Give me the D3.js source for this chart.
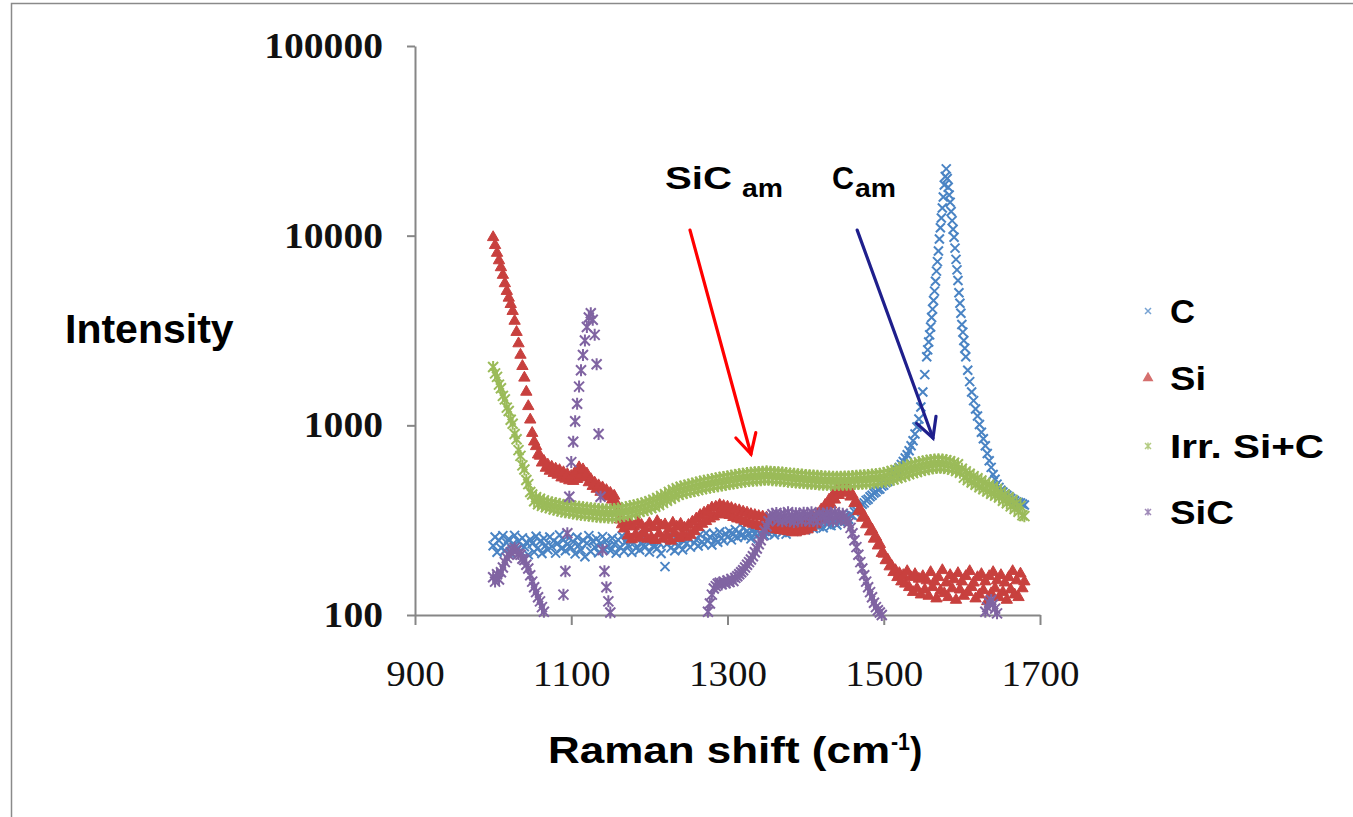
<!DOCTYPE html>
<html>
<head>
<meta charset="utf-8">
<script src="https://cdn.jsdelivr.net/npm/d3@7"></script>
<style>
  body { margin: 0; background: #fff; }
  svg { display: block; }
</style>
</head>
<body>
<div id="chart"></div>
<script>
const width = 1353;
const height = 817;

// Raman shift (cm-1), one sample every 2.5 cm-1
const shift = [
  1000, 1002.5, 1005, 1007.5, 1010, 1012.5, 1015, 1017.5, 1020, 1022.5, 1025, 1027.5, 1030, 1032.5, 1035, 1037.5, 1040, 1042.5, 1045, 1047.5,
  1050, 1052.5, 1055, 1057.5, 1060, 1062.5, 1065, 1067.5, 1070, 1072.5, 1075, 1077.5, 1080, 1082.5, 1085, 1087.5, 1090, 1092.5, 1095, 1097.5,
  1100, 1102.5, 1105, 1107.5, 1110, 1112.5, 1115, 1117.5, 1120, 1122.5, 1125, 1127.5, 1130, 1132.5, 1135, 1137.5, 1140, 1142.5, 1145, 1147.5,
  1150, 1152.5, 1155, 1157.5, 1160, 1162.5, 1165, 1167.5, 1170, 1172.5, 1175, 1177.5, 1180, 1182.5, 1185, 1187.5, 1190, 1192.5, 1195, 1197.5,
  1200, 1202.5, 1205, 1207.5, 1210, 1212.5, 1215, 1217.5, 1220, 1222.5, 1225, 1227.5, 1230, 1232.5, 1235, 1237.5, 1240, 1242.5, 1245, 1247.5,
  1250, 1252.5, 1255, 1257.5, 1260, 1262.5, 1265, 1267.5, 1270, 1272.5, 1275, 1277.5, 1280, 1282.5, 1285, 1287.5, 1290, 1292.5, 1295, 1297.5,
  1300, 1302.5, 1305, 1307.5, 1310, 1312.5, 1315, 1317.5, 1320, 1322.5, 1325, 1327.5, 1330, 1332.5, 1335, 1337.5, 1340, 1342.5, 1345, 1347.5,
  1350, 1352.5, 1355, 1357.5, 1360, 1362.5, 1365, 1367.5, 1370, 1372.5, 1375, 1377.5, 1380, 1382.5, 1385, 1387.5, 1390, 1392.5, 1395, 1397.5,
  1400, 1402.5, 1405, 1407.5, 1410, 1412.5, 1415, 1417.5, 1420, 1422.5, 1425, 1427.5, 1430, 1432.5, 1435, 1437.5, 1440, 1442.5, 1445, 1447.5,
  1450, 1452.5, 1455, 1457.5, 1460, 1462.5, 1465, 1467.5, 1470, 1472.5, 1475, 1477.5, 1480, 1482.5, 1485, 1487.5, 1490, 1492.5, 1495, 1497.5,
  1500, 1502.5, 1505, 1507.5, 1510, 1512.5, 1515, 1517.5, 1520, 1522.5, 1525, 1527.5, 1530, 1532.5, 1535, 1537.5, 1540, 1542.5, 1545, 1547.5,
  1550, 1552.5, 1555, 1557.5, 1560, 1562.5, 1565, 1567.5, 1570, 1572.5, 1575, 1577.5, 1580, 1582.5, 1585, 1587.5, 1590, 1592.5, 1595, 1597.5,
  1600, 1602.5, 1605, 1607.5, 1610, 1612.5, 1615, 1617.5, 1620, 1622.5, 1625, 1627.5, 1630, 1632.5, 1635, 1637.5, 1640, 1642.5, 1645, 1647.5,
  1650, 1652.5, 1655, 1657.5, 1660, 1662.5, 1665, 1667.5, 1670, 1672.5, 1675, 1677.5, 1680
];

const cValues = [
  232, 258, 214, 247, 226, 262, 219, 240, 252, 210, 236, 263, 222, 245, 216, 255, 229, 241, 208, 250,
  238, 215, 260, 226, 244, 211, 253, 233, 221, 258, 230, 246, 212, 239, 264, 224, 249, 218, 236, 255,
  227, 243, 210, 257, 234, 220, 248, 203, 239, 262, 216, 245, 228, 252, 213, 238, 259, 222, 247, 231,
  219, 254, 236, 212, 249, 228, 261, 217, 242, 233, 256, 214, 240, 226, 251, 220, 237, 263, 229, 245,
  215, 248, 231, 257, 224, 240, 211, 253, 180, 236, 262, 226, 244, 218, 250, 233, 259, 221, 246, 238,
  254, 228, 262, 240, 249, 231, 266, 243, 236, 270, 247, 258, 234, 268, 251, 242, 274, 255, 246, 268,
  258, 276, 249, 267, 282, 256, 271, 262, 288, 259, 277, 266, 252, 284, 270, 261, 292, 268, 279, 263,
  287, 270, 296, 276, 265, 291, 281, 300, 272, 288, 267, 295, 283, 304, 276, 290, 280, 306, 285, 296,
  281, 302, 290, 311, 286, 298, 316, 293, 305, 288, 320, 300, 312, 296, 324, 306, 298, 318, 309, 326,
  312, 330, 320, 338, 334, 350, 356, 366, 372, 384, 390, 402, 408, 420, 428, 440, 446, 458, 462, 478,
  484, 498, 505, 520, 530, 548, 560, 580, 600, 622, 645, 672, 700, 735, 780, 830, 900, 980, 1080, 1250,
  1500, 1850, 2300, 2750, 3300, 4100, 5100, 6500, 8300, 11000, 14000, 18500, 22500, 18000, 15000, 12000, 9800, 7500, 5800, 4400,
  3400, 2800, 2300, 1950, 1700, 1500, 1350, 1220, 1120, 1010, 920, 850, 780, 710, 650, 600, 550, 520, 490, 470,
  455, 445, 435, 428, 420, 412, 405, 400, 395, 392, 390, 385, 380
];

// extra C samples
const cPeakShift = [
  1556.25, 1558.75, 1561.25, 1563.75, 1566.25, 1568.75, 1571.25, 1573.75, 1576.25, 1578.75,
  1581.25, 1583.75, 1586.25, 1588.75, 1591.25, 1593.75, 1596.25, 1598.75, 1601.25, 1603.75
];
const cPeakValues = [
  2500, 3000, 3700, 4550, 5750, 7300, 9600, 12400, 16000, 20500,
  20000, 16400, 13400, 10800, 8600, 6600, 5000, 3900, 3100, 2550
];

const siValues = [
  9800, 8900, 8100, 7400, 6800, 6200, 5600, 5100, 4700, 4350, 4000, 3550, 3100, 2700, 2350, 2050, 1780, 1500, 1260, 1070,
  910, 820, 775, 700, 690, 635, 648, 596, 620, 575, 604, 560, 590, 548, 580, 530, 565, 522, 552, 512,
  540, 508, 566, 520, 600, 548, 585, 530, 556, 500, 520, 478, 498, 462, 482, 445, 470, 432, 455, 420,
  440, 405, 425, 390, 350, 318, 300, 285, 295, 262, 306, 250, 292, 266, 310, 255, 298, 270, 286, 252,
  304, 256, 290, 248, 312, 268, 296, 252, 300, 262, 284, 246, 306, 270, 292, 254, 302, 266, 288, 258,
  298, 264, 310, 276, 322, 290, 336, 302, 346, 312, 355, 322, 368, 330, 372, 338, 380, 345, 375, 340,
  372, 336, 366, 328, 360, 322, 356, 318, 350, 312, 346, 306, 340, 302, 336, 298, 332, 294, 330, 292,
  326, 290, 322, 286, 320, 282, 316, 280, 312, 278, 310, 276, 308, 274, 306, 272, 304, 276, 308, 278,
  312, 282, 316, 290, 325, 300, 340, 318, 360, 336, 380, 360, 405, 382, 430, 405, 452, 428, 470, 445,
  478, 440, 462, 420, 430, 388, 392, 352, 360, 325, 332, 300, 305, 275, 282, 252, 258, 232, 236, 212,
  210, 194, 196, 180, 182, 168, 172, 158, 166, 150, 162, 146, 170, 140, 158, 132, 164, 138, 155, 128,
  160, 136, 152, 126, 168, 140, 150, 122, 158, 134, 172, 130, 148, 124, 162, 138, 154, 120, 166, 136,
  150, 126, 160, 132, 170, 140, 148, 122, 158, 128, 164, 135, 150, 118, 160, 130, 168, 138, 152, 124,
  162, 132, 148, 120, 158, 136, 170, 128, 152, 124, 165, 138, 150
];

const irrValues = [
  2030, 1880, 1800, 1640, 1570, 1430, 1370, 1240, 1190, 1070, 1020, 900, 845, 740, 690, 615, 585, 515, 490, 445,
  432, 398, 418, 384, 410, 376, 402, 370, 396, 366, 392, 360, 388, 356, 384, 352, 380, 348, 378, 346,
  376, 344, 374, 340, 372, 338, 370, 336, 368, 334, 366, 332, 364, 330, 362, 328, 362, 328, 360, 326,
  360, 326, 362, 328, 364, 330, 366, 334, 370, 336, 374, 340, 378, 344, 382, 350, 386, 354, 392, 360,
  398, 366, 406, 372, 414, 380, 424, 390, 434, 400, 446, 410, 456, 420, 466, 430, 474, 436, 480, 442,
  486, 446, 492, 450, 498, 456, 504, 462, 510, 466, 514, 470, 520, 474, 524, 478, 530, 482, 534, 486,
  538, 490, 542, 494, 548, 498, 552, 502, 556, 506, 560, 508, 562, 510, 566, 512, 568, 514, 570, 516,
  572, 516, 570, 514, 568, 512, 566, 510, 564, 508, 560, 504, 558, 502, 556, 500, 552, 498, 550, 496,
  548, 494, 546, 492, 544, 490, 542, 488, 540, 486, 538, 486, 538, 484, 536, 484, 536, 484, 536, 486,
  538, 486, 538, 488, 540, 490, 542, 490, 544, 492, 546, 494, 548, 496, 550, 498, 552, 500, 556, 502,
  560, 506, 566, 512, 574, 518, 582, 526, 592, 534, 602, 542, 612, 552, 622, 560, 630, 568, 638, 576,
  644, 582, 650, 588, 656, 594, 660, 596, 662, 598, 660, 596, 654, 590, 646, 584, 636, 574, 624, 562,
  590, 530, 572, 514, 556, 500, 540, 486, 526, 472, 512, 460, 498, 448, 486, 436, 474, 426, 462, 416,
  446, 400, 432, 388, 418, 374, 404, 362, 390, 350, 376, 336, 332
];

const sicValues = [
  158, 150, 164, 154, 168, 178, 190, 200, 208, 214, 220, 226, 218, 210, 208, 198, 195, 184, 176, 162,
  150, 140, 132, 124, 118, 110, 104, 96, 90, 86, 82, 80, 82, 84, 86, 92, 128, 170, 270, 420,
  640, 820, 1050, 1300, 1600, 1950, 2350, 2800, 3300, 3700, 3900, 3600, 3000, 2100, 900, 420, 220, 170, 140, 118,
  103, 94, 88, 82, 78, 76, 75, 74, 73, 72, 72, 72, 71, 71, 72, 72, 73, 73, 74, 74,
  74, 74, 75, 75, 76, 76, 77, 77, 78, 79, 80, 80, 81, 82, 82, 83, 84, 84, 85, 86,
  86, 87, 88, 88, 89, 90, 91, 92, 94, 96, 104, 115, 128, 138, 142, 146, 148, 145, 150, 147,
  152, 149, 155, 151, 157, 160, 164, 168, 172, 178, 184, 190, 196, 204, 214, 224, 236, 248, 262, 278,
  294, 312, 328, 340, 326, 345, 318, 338, 312, 342, 320, 348, 316, 336, 310, 344, 322, 338, 314, 346,
  326, 340, 312, 348, 322, 336, 310, 344, 328, 338, 316, 346, 324, 340, 312, 348, 330, 338, 318, 342,
  330, 318, 306, 288, 270, 248, 228, 208, 190, 176, 162, 150, 140, 132, 124, 116, 110, 106, 103, 100,
  96, 92, 90, 88, 86, 84, 83, 82, 81, 80, 79, 78, 78, 77, 77, 76, 76, 76, 76, 76,
  76, 76, 76, 77, 77, 77, 78, 78, 78, 79, 79, 80, 80, 81, 81, 82, 82, 83, 83, 84,
  84, 85, 86, 86, 87, 88, 89, 90, 92, 94, 96, 98, 104, 110, 116, 120, 114, 108, 102, 98,
  95, 92, 90, 88, 86, 85, 84, 83, 82, 81, 80, 80, 79
];

const seriesNames = ["C", "Si", "Irr. Si+C", "SiC"];
const seriesColors = ["#4A84C4", "#C8403E", "#9BBB59", "#8064A2"];
const seriesMarkers = ["cross", "triangle", "star", "star"];
const xTicks = [900, 1100, 1300, 1500, 1700];
const yTicks = [100, 1000, 10000, 100000];

const x = d3.scaleLinear().domain([900, 1700]).range([415, 1040]);
const y = d3.scaleLog().domain([100, 100000]).range([615, 46]);

const svg = d3.select("#chart").append("svg")
    .attr("width", width)
    .attr("height", height);

// outer chart frame
svg.append("rect")
    .attr("x", 11.5)
    .attr("y", 3.5)
    .attr("width", 1400)
    .attr("height", 900)
    .attr("fill", "#fff")
    .attr("stroke", "#8a8a8a")
    .attr("stroke-width", 1.5);

const axisColor = "#868686";

const xAxis = svg.append("g")
    .attr("transform", "translate(0,615)")
    .call(d3.axisBottom(x).tickValues(xTicks).tickSize(10).tickSizeOuter(0)
        .tickPadding(35).tickFormat(d3.format("d")));
xAxis.select(".domain").attr("stroke", axisColor).attr("stroke-width", 2);
xAxis.selectAll(".tick line").attr("stroke", axisColor).attr("stroke-width", 2);
xAxis.selectAll(".tick text")
    .attr("font-family", "'Liberation Serif', serif")
    .attr("font-size", 36)
    .attr("fill", "#111")
    .attr("textLength", d => String(d).length * 19.5)
    .attr("lengthAdjust", "spacingAndGlyphs");

const yAxis = svg.append("g")
    .attr("transform", "translate(415,0)")
    .call(d3.axisLeft(y).tickValues(yTicks).tickSize(8).tickSizeOuter(0)
        .tickPadding(24).tickFormat(d3.format("d")));
yAxis.select(".domain").attr("stroke", axisColor).attr("stroke-width", 2);
yAxis.selectAll(".tick line").attr("stroke", axisColor).attr("stroke-width", 2);
yAxis.selectAll(".tick text")
    .attr("font-family", "'Liberation Serif', serif")
    .attr("font-weight", "bold")
    .attr("font-size", 36)
    .attr("fill", "#111")
    .attr("textLength", d => String(d).length * 19.8)
    .attr("lengthAdjust", "spacingAndGlyphs");

// marker shapes
const markerPath = {
    cross: "M-4.5,-4.5L4.5,4.5M-4.5,4.5L4.5,-4.5",
    triangle: d3.symbol(d3.symbolTriangle, 56)(),
    star: "M-5,-5L5,5M-5,5L5,-5M0,-6L0,6"
};
const smallMarker = {
    cross: "M-3,-3L3,3M-3,3L3,-3",
    triangle: d3.symbol(d3.symbolTriangle, 30)(),
    star: "M-3,-3L3,3M-3,3L3,-3M0,-3.5L0,3.5"
};

const seriesPoints = [
    shift.map((s, i) => [s, cValues[i]]).concat(cPeakShift.map((s, i) => [s, cPeakValues[i]])),
    shift.map((s, i) => [s, siValues[i]]),
    shift.map((s, i) => [s, irrValues[i]]),
    shift.map((s, i) => [s, sicValues[i]])
];

seriesPoints.forEach((all, k) => {
    // points outside the log axis range are not drawn, as in the source chart
    const pts = all.filter(p => p[1] >= 100 && p[1] <= 100000);
    const m = seriesMarkers[k];
    svg.append("g")
        .selectAll("path")
        .data(pts)
        .join("path")
        .attr("transform", p => `translate(${x(p[0])},${y(p[1])})`)
        .attr("d", markerPath[m])
        .attr("fill", m === "triangle" ? seriesColors[k] : "none")
        .attr("stroke", seriesColors[k])
        .attr("stroke-width", m === "triangle" ? 1 : 2);
});

// axis titles
const titleFont = "'Liberation Sans', Arial, sans-serif";

svg.append("text")
    .attr("x", 65)
    .attr("y", 343)
    .attr("font-family", titleFont)
    .attr("font-weight", "bold")
    .attr("font-size", 41)
    .text("Intensity");

svg.append("text")
    .attr("x", 548)
    .attr("y", 763)
    .attr("font-family", titleFont)
    .attr("font-weight", "bold")
    .attr("font-size", 37)
    .attr("textLength", 342)
    .attr("lengthAdjust", "spacingAndGlyphs")
    .text("Raman shift (cm");
svg.append("text")
    .attr("x", 891)
    .attr("y", 750)
    .attr("font-family", titleFont)
    .attr("font-weight", "bold")
    .attr("font-size", 23)
    .attr("textLength", 19)
    .attr("lengthAdjust", "spacingAndGlyphs")
    .text("-1");
svg.append("text")
    .attr("x", 910)
    .attr("y", 763)
    .attr("font-family", titleFont)
    .attr("font-weight", "bold")
    .attr("font-size", 37)
    .text(")");

// annotations
const notes = [
    { main: "SiC", sub: "am", x: 665, mainLen: 67, subX: 742, color: "#FF0000",
      from: [1252, 10700], to: [1330, 706] },
    { main: "C", sub: "am", x: 832, mainLen: 22, subX: 855, color: "#1F1F8C",
      from: [1466, 10700], to: [1563, 857] }
];

notes.forEach(n => {
    svg.append("text")
        .attr("x", n.x).attr("y", 189)
        .attr("font-family", titleFont)
        .attr("font-weight", "bold")
        .attr("font-size", 32)
        .attr("textLength", n.mainLen)
        .attr("lengthAdjust", "spacingAndGlyphs")
        .text(n.main);
    svg.append("text")
        .attr("x", n.subX).attr("y", 197)
        .attr("font-family", titleFont)
        .attr("font-weight", "bold")
        .attr("font-size", 26)
        .attr("textLength", 41)
        .attr("lengthAdjust", "spacingAndGlyphs")
        .text(n.sub);

    const x0 = x(n.from[0]), y0 = y(n.from[1]);
    const x1 = x(n.to[0]), y1 = y(n.to[1]);
    const ang = Math.atan2(y0 - y1, x0 - x1);
    const wing = 22, spread = 28 * Math.PI / 180;
    const g = svg.append("g")
        .attr("stroke", n.color)
        .attr("stroke-width", 3.2)
        .attr("fill", "none")
        .attr("stroke-linecap", "round");
    g.append("line").attr("x1", x0).attr("y1", y0).attr("x2", x1).attr("y2", y1);
    g.append("polyline").attr("points", [
        [x1 + wing * Math.cos(ang - spread), y1 + wing * Math.sin(ang - spread)],
        [x1, y1],
        [x1 + wing * Math.cos(ang + spread), y1 + wing * Math.sin(ang + spread)]
    ].map(p => p.join(",")).join(" "));
});

// legend
const legendY = [311, 378, 446, 512];
const legendLen = [25, 36, 154, 64];
const legend = svg.append("g")
    .selectAll("g")
    .data(seriesNames)
    .join("g")
    .attr("transform", (d, i) => `translate(1148,${legendY[i]})`);

legend.append("path")
    .attr("d", (d, i) => smallMarker[seriesMarkers[i]])
    .attr("fill", (d, i) => seriesMarkers[i] === "triangle" ? seriesColors[i] : "none")
    .attr("stroke", (d, i) => seriesColors[i])
    .attr("stroke-width", 1.5)
    .attr("opacity", 0.75);

legend.append("text")
    .attr("x", 22)
    .attr("y", 12)
    .attr("font-family", titleFont)
    .attr("font-weight", "bold")
    .attr("font-size", 34)
    .attr("textLength", (d, i) => legendLen[i])
    .attr("lengthAdjust", "spacingAndGlyphs")
    .text(d => d);
</script>
</body>
</html>
